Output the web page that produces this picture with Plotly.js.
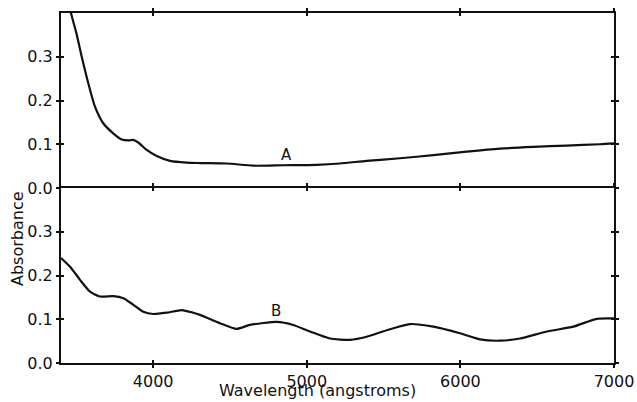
<!DOCTYPE html>
<html>
<head>
<meta charset="utf-8">
<script src="https://cdn.plot.ly/plotly-3.0.1.min.js"></script>
<style>html,body{margin:0;padding:0;background:#fff;}#chart{width:637px;height:402px;}</style>
</head>
<body>
<div id="chart"></div>
<script>
// Curve A (upper panel)
const wavelengthA = [3455,3465,3500,3535,3578,3621,3675,3740,3795,3840,3871,3903,3958,4023,4110,4218,4305,4479,4652,4847,5064,5216,5390,5607,5824,6041,6258,6475,6692,6909,7000];
const absorbanceA = [0.420,0.400,0.354,0.300,0.239,0.186,0.148,0.125,0.111,0.109,0.110,0.104,0.087,0.073,0.062,0.058,0.057,0.056,0.051,0.052,0.053,0.056,0.062,0.068,0.075,0.083,0.090,0.094,0.097,0.100,0.102];
// Curve B (lower panel)
const wavelengthB = [3400,3459,3524,3589,3654,3740,3806,3871,3936,4001,4088,4186,4261,4305,4435,4544,4630,4804,4912,5021,5151,5281,5390,5520,5672,5824,5997,6127,6258,6388,6562,6735,6887,7000];
const absorbanceB = [0.240,0.220,0.190,0.163,0.152,0.153,0.148,0.133,0.117,0.112,0.115,0.121,0.115,0.110,0.091,0.078,0.087,0.094,0.087,0.072,0.056,0.053,0.060,0.075,0.089,0.083,0.068,0.054,0.051,0.056,0.072,0.083,0.101,0.102];

const xTicks = [4000,5000,6000,7000];
const xTickLabels = ['4000','5000','6000','7000'];
const yTicks = [0,0.1,0.2,0.3];
const yTickLabels = ['0.0','0.1','0.2','0.3'];
const xRange = [3400,7000];
const yRange = [0,0.4];

const font = 'DejaVu Sans, sans-serif';
const ink = '#111';

const lineStyle = {color: ink, width: 2.2, shape: 'spline', smoothing: 0.6};
const traces = [
  {x: wavelengthA, y: absorbanceA, xaxis: 'x2', yaxis: 'y2', mode: 'lines', line: lineStyle, hoverinfo: 'skip', showlegend: false},
  {x: wavelengthB, y: absorbanceB, xaxis: 'x', yaxis: 'y', mode: 'lines', line: lineStyle, hoverinfo: 'skip', showlegend: false},
  // helper traces so the inner-tick overlay axes get drawn
  {x: [null], y: [null], xaxis: 'x3', yaxis: 'y', mode: 'markers', hoverinfo: 'skip', showlegend: false},
  {x: [null], y: [null], xaxis: 'x4', yaxis: 'y2', mode: 'markers', hoverinfo: 'skip', showlegend: false},
  {x: [null], y: [null], xaxis: 'x', yaxis: 'y3', mode: 'markers', hoverinfo: 'skip', showlegend: false},
  {x: [null], y: [null], xaxis: 'x2', yaxis: 'y4', mode: 'markers', hoverinfo: 'skip', showlegend: false}
];

const baseX = {
  range: xRange, tickmode: 'array', tickvals: xTicks, ticktext: xTickLabels,
  showgrid: false, zeroline: false, ticklen: 3, tickwidth: 2, tickcolor: ink,
  linecolor: ink, linewidth: 2, tickfont: {family: font, size: 16, color: ink}
};
const baseY = {
  range: yRange, tickmode: 'array', tickvals: yTicks, ticktext: yTickLabels,
  showgrid: false, zeroline: false, ticklen: 3, tickwidth: 2, tickcolor: ink,
  linecolor: ink, linewidth: 2, tickfont: {family: font, size: 16, color: ink}
};

const layout = {
  width: 637, height: 402,
  margin: {l: 61, r: 23, t: 13, b: 39, pad: 0},
  paper_bgcolor: '#fff', plot_bgcolor: '#fff',
  showlegend: false,
  // lower panel: bottom line + outward ticks, mirrored line + upward ticks at the divider
  xaxis: Object.assign({}, baseX, {anchor: 'y', side: 'bottom', ticks: 'outside', showline: true, mirror: 'ticks'}),
  // upper panel: top line + upward ticks
  xaxis2: Object.assign({}, baseX, {anchor: 'y2', side: 'top', ticks: 'outside', showline: true, mirror: false, showticklabels: false}),
  // inner ticks: upward at bottom, downward at divider
  xaxis3: Object.assign({}, baseX, {overlaying: 'x', anchor: 'y', side: 'bottom', ticks: 'inside', showline: false, mirror: 'ticks', showticklabels: false}),
  // inner ticks: downward at top
  xaxis4: Object.assign({}, baseX, {overlaying: 'x2', anchor: 'y2', side: 'top', ticks: 'inside', showline: false, mirror: false, showticklabels: false}),
  yaxis: Object.assign({}, baseY, {domain: [0, 0.5], anchor: 'x', ticks: 'outside', showline: true, mirror: 'ticks'}),
  yaxis2: Object.assign({}, baseY, {domain: [0.5, 1], anchor: 'x2', ticks: 'outside', showline: true, mirror: 'ticks'}),
  yaxis3: Object.assign({}, baseY, {overlaying: 'y', anchor: 'x', side: 'left', ticks: 'inside', showline: false, mirror: 'ticks', showticklabels: false}),
  yaxis4: Object.assign({}, baseY, {overlaying: 'y2', anchor: 'x2', side: 'left', ticks: 'inside', showline: false, mirror: 'ticks', showticklabels: false}),
  annotations: [
    {text: 'Wavelength (angstroms)', xref: 'paper', yref: 'paper', x: 0.463, y: -0.1114, xanchor: 'center', yanchor: 'bottom', showarrow: false, font: {family: font, size: 16, color: ink}},
    {text: 'Absorbance', xref: 'paper', yref: 'paper', x: -0.0796, y: 0.357, xanchor: 'center', yanchor: 'middle', textangle: -90, showarrow: false, font: {family: font, size: 16, color: ink}},
    {text: 'A', xref: 'x2', yref: 'y2', x: 4865, y: 0.0754, xanchor: 'center', yanchor: 'middle', showarrow: false, font: {family: font, size: 15, color: ink}},
    {text: 'B', xref: 'x', yref: 'y', x: 4800, y: 0.119, xanchor: 'center', yanchor: 'middle', showarrow: false, font: {family: font, size: 15, color: ink}}
  ]
};

Plotly.newPlot('chart', traces, layout, {staticPlot: true, displayModeBar: false});
</script>
</body>
</html>
